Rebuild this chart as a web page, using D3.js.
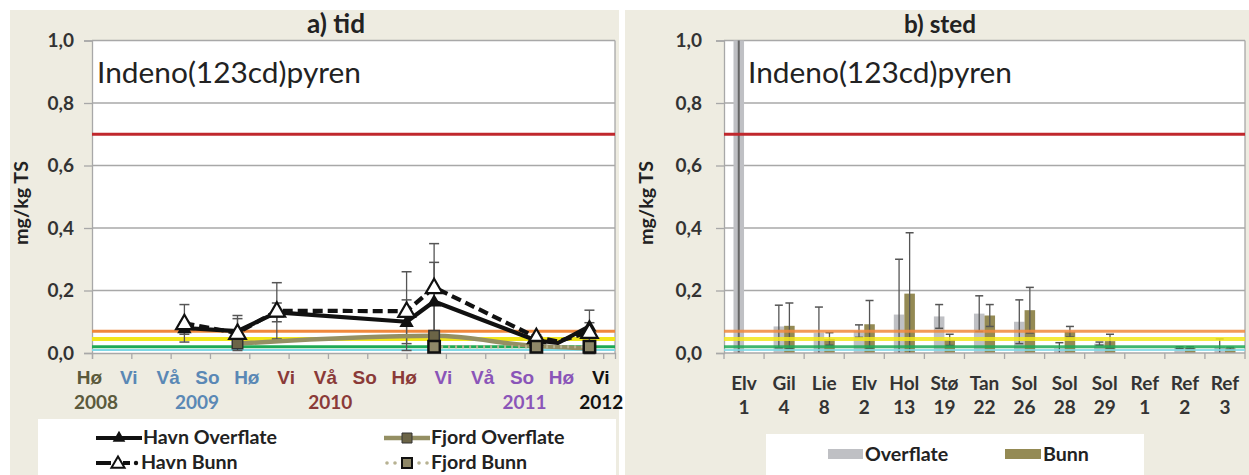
<!DOCTYPE html>
<html><head><meta charset="utf-8">
<script src="https://cdn.jsdelivr.net/npm/d3@7/dist/d3.min.js"></script>
<style>
body{margin:0;background:#fff;}
svg{display:block;font-family:Lato,"Open Sans",sans-serif;}
</style></head>
<body><svg id="c" width="1249" height="475"></svg>
<script>
// ---------------- DATA ----------------
const yTicks = [0, 0.2, 0.4, 0.6, 0.8, 1.0];
const thresholds = [0.7, 0.07, 0.045, 0.02, 0.01];

// a) tid  (x = season index, 0 = Hø 2008)
const seasonLabels = ["Hø","Vi","Vå","So","Hø","Vi","Vå","So","Hø","Vi","Vå","So","Hø","Vi"];
const seasonYearGroup = [0,1,1,1,1,2,2,2,2,3,3,3,3,4];
const yearLabels = ["2008","2009","2010","2011","2012"];
const yearLabelPos = [0.1, 2.67, 6.06, 11.0, 12.95];
const timeX = [2.35, 3.7, 4.7, 8.0, 8.7, 11.3, 11.85, 12.65];
const havnOverflate = [0.08, 0.07, 0.13, 0.10, 0.165, 0.04, 0.032, 0.085];
const havnOverflateErr = [0.02, 0.04, 0.03, 0.07, 0.125, 0.01, null, 0.052];
const havnBunn = [0.095, 0.064, 0.135, 0.134, 0.21, 0.05, 0.037, 0.067];
const havnBunnErr = [0.06, 0.056, 0.09, 0.126, 0.14, 0.008, null, 0.03];
const fjordOverflateX = [3.7, 8.7, 11.3, 12.65];
const fjordOverflate = [0.03, 0.055, 0.022, 0.015];
const fjordBunnX = [8.7, 11.3, 12.65];
const fjordBunn = [0.02, 0.02, 0.02];

// b) sted
const sites = ["Elv 1","Gil 4","Lie 8","Elv 2","Hol 13","Stø 19","Tan 22","Sol 26","Sol 28","Sol 29","Ref 1","Ref 2","Ref 3"];
const overflate    = [1.5, 0.085, 0.065, 0.07, 0.123, 0.117, 0.126, 0.10, 0.015, 0.03, null, 0.017, 0.02];
const overflateErr = [null, 0.068, 0.082, 0.02, 0.177, 0.038, 0.057, 0.07, 0.018, 0.005, null, 0.003, 0.025];
const bunn         = [null, 0.087, 0.045, 0.092, 0.19, 0.042, 0.12, 0.137, 0.068, 0.038, null, 0.017, 0.015];
const bunnErr      = [null, 0.073, 0.02, 0.076, 0.195, 0.018, 0.035, 0.073, 0.017, 0.022, null, 0.003, 0.003];

// ---------------- STYLE ----------------
const thresholdColors = ["#c0282d", "#f0883c", "#f2e61a", "#1faa55", "#7fd8e6"];
const thresholdWidths = [3, 3, 4, 3, 2];
const yearColors = ["#5b5a3c", "#5a88b5", "#8a3a38", "#8a55b8", "#111"];
const panelBg = "#eeece1";
const gridCol = "#a8a8a8";
const labCol = "#333";
const fjOvCol = "#948f63";

const svg = d3.select("#c");
svg.append("rect").attr("width",1249).attr("height",475).attr("fill","#fff");

function fit(sel, w){
  const n = sel.node(); const fs = parseFloat(sel.attr("font-size"));
  const l = n.getComputedTextLength(); sel.attr("font-size", fs*w/l);
  return sel;
}

function yAxisPanel(g, y, x0, x1, labelEnd, titleX){
  g.selectAll(".grid").data(yTicks.filter(d=>d>0)).join("line")
    .attr("x1",x0).attr("x2",x1).attr("y1",d=>y(d)).attr("y2",d=>y(d))
    .attr("stroke",gridCol).attr("stroke-width",1.3);
  const ax = g.append("g").attr("transform",`translate(${x0},0)`)
    .call(d3.axisLeft(y).tickValues(yTicks).tickFormat(d=>d.toFixed(1).replace(".",","))
      .tickSize(8).tickPadding(x0-8-labelEnd));
  ax.select(".domain").attr("stroke",gridCol).attr("stroke-width",1.3);
  ax.selectAll(".tick line").attr("stroke",gridCol).attr("stroke-width",1.3);
  ax.selectAll("text").attr("font-size",19).attr("font-weight","bold").attr("fill",labCol)
    .attr("font-family","Lato");
  const t = g.append("text").attr("transform",`translate(${titleX},203) rotate(-90)`)
    .attr("text-anchor","middle").attr("font-size",20).attr("font-weight","bold").attr("fill","#222")
    .text("mg/kg TS");
  fit(t, 84);
}

// ================= PANEL A =================
const gA = svg.append("g");
gA.append("rect").attr("x",10).attr("y",10).attr("width",609).attr("height",465).attr("fill",panelBg);
const yA = d3.scaleLinear().domain([0,1]).range([353,40.5]);
const xA = d3.scaleLinear().domain([0,13.3]).range([92,615]);
gA.append("rect").attr("x",92).attr("y",40.5).attr("width",523).attr("height",312.5).attr("fill","#fff");
yAxisPanel(gA, yA, 92, 615, 74, 28);
gA.append("line").attr("x1",615).attr("x2",615).attr("y1",40.5).attr("y2",353).attr("stroke",gridCol).attr("stroke-width",1.3);
fit(gA.append("text").attr("x",336).attr("y",33).attr("text-anchor","middle").attr("font-size",22)
  .attr("font-weight","bold").attr("fill","#222").text("a) tid"), 58);
fit(gA.append("text").attr("x",97).attr("y",83).attr("font-size",24).attr("fill","#222").text("Indeno(123cd)pyren"), 264);

gA.selectAll(".thr").data(thresholds).join("line")
  .attr("x1",92).attr("x2",615).attr("y1",d=>yA(d)).attr("y2",d=>yA(d))
  .attr("stroke",(d,i)=>thresholdColors[i]).attr("stroke-width",(d,i)=>thresholdWidths[i]);

const axA = gA.append("g").attr("transform","translate(0,353)")
  .call(d3.axisBottom(xA).tickValues(d3.range(seasonLabels.length)).tickFormat(i=>seasonLabels[i])
    .tickSize(6).tickPadding(12));
axA.select(".domain").attr("stroke",gridCol).attr("stroke-width",1.3);
axA.selectAll(".tick line").attr("stroke",gridCol).attr("stroke-width",1.3);
axA.selectAll("text").attr("font-size",19).attr("font-weight","bold")
  .attr("fill",(d,i)=>yearColors[seasonYearGroup[i]]).attr("dx",-3);
gA.selectAll(".yr").data(yearLabels).join("text")
  .attr("x",(d,i)=>xA(yearLabelPos[i])).attr("y",409).attr("text-anchor","middle")
  .attr("font-size",19).attr("font-weight","bold").attr("fill",(d,i)=>yearColors[i]).text(d=>d);

const clipA = gA.append("g");
function errBars(g, xs, vals, errs, xf, yf, cap){
  xs.forEach((xv,i)=>{
    if(errs[i]==null || vals[i]==null) return;
    const v=vals[i], e=errs[i], cx=xf(xv,i);
    const lo=Math.max(0,v-e), hi=v+e;
    g.append("line").attr("x1",cx).attr("x2",cx).attr("y1",yf(lo)).attr("y2",yf(hi)).attr("stroke","#555").attr("stroke-width",1.3);
    g.append("line").attr("x1",cx-cap).attr("x2",cx+cap).attr("y1",yf(hi)).attr("y2",yf(hi)).attr("stroke","#555").attr("stroke-width",1.5);
    if(v-e>0) g.append("line").attr("x1",cx-cap).attr("x2",cx+cap).attr("y1",yf(lo)).attr("y2",yf(lo)).attr("stroke","#555").attr("stroke-width",1.5);
  });
}
errBars(clipA, timeX, havnBunn, havnBunnErr, x=>xA(x), yA, 5);
errBars(clipA, timeX, havnOverflate, havnOverflateErr, x=>xA(x), yA, 5);

const lineGen = d3.line().x(d=>xA(d[0])).y(d=>yA(d[1]));
const smooth = d3.line().x(d=>xA(d[0])).y(d=>yA(d[1])).curve(d3.curveMonotoneX);
const fjOv = fjordOverflateX.map((x,i)=>[x,fjordOverflate[i]]);
const fjBu = fjordBunnX.map((x,i)=>[x,fjordBunn[i]]);
const hvOv = timeX.map((x,i)=>[x,havnOverflate[i]]);
const hvBu = timeX.map((x,i)=>[x,havnBunn[i]]);

clipA.append("path").attr("d",smooth(fjOv)).attr("fill","none").attr("stroke",fjOvCol).attr("stroke-width",4.5);
clipA.append("path").attr("d",lineGen(fjBu)).attr("fill","none").attr("stroke","#b7b292").attr("stroke-width",3).attr("stroke-dasharray","2,5");
clipA.append("path").attr("d",lineGen(hvOv)).attr("fill","none").attr("stroke","#111").attr("stroke-width",4.2).attr("stroke-linejoin","round");
clipA.append("path").attr("d",lineGen(hvBu)).attr("fill","none").attr("stroke","#111").attr("stroke-width",4.2).attr("stroke-dasharray","10,5");

const tri = d3.symbol().type(d3.symbolTriangle);
const sq = d3.symbol().type(d3.symbolSquare);
clipA.selectAll(".fos").data(fjOv).join("path")
  .attr("transform",d=>`translate(${xA(d[0])},${yA(d[1])})`).attr("d",sq.size(110)())
  .attr("fill","#6b6446").attr("stroke","#333").attr("stroke-width",1.5);
clipA.selectAll(".hot").data(hvOv.filter((d,i)=>havnOverflateErr[i]!=null)).join("path")
  .attr("transform",d=>`translate(${xA(d[0])},${yA(d[1])+1})`).attr("d",tri.size(90)())
  .attr("fill","#111");
clipA.selectAll(".hbt").data(hvBu.filter((d,i)=>havnBunnErr[i]!=null)).join("path")
  .attr("transform",d=>`translate(${xA(d[0])},${yA(d[1])+1})`).attr("d",tri.size(120)())
  .attr("fill","#fff").attr("stroke","#111").attr("stroke-width",2.2);
clipA.selectAll(".fbs").data(fjBu).join("path")
  .attr("transform",d=>`translate(${xA(d[0])},${yA(d[1])})`).attr("d",sq.size(130)())
  .attr("fill","#8f8868").attr("stroke","#111").attr("stroke-width",2.5);

// legend A
const lgA = gA.append("g");
lgA.append("rect").attr("x",38).attr("y",419).attr("width",578).attr("height",56).attr("fill","#fff");
let legSize = 18;
function legText(g,x,y,t){ return g.append("text").attr("x",x).attr("y",y).attr("font-size",legSize)
  .attr("font-weight","bold").attr("fill","#222").text(t); }
lgA.append("line").attr("x1",96).attr("x2",142).attr("y1",438).attr("y2",438).attr("stroke","#111").attr("stroke-width",4);
lgA.append("path").attr("transform","translate(119,438)").attr("d",tri.size(70)()).attr("fill","#111");
const first = fit(legText(lgA,143,444,"Havn Overflate"),134);
legSize = parseFloat(first.attr("font-size"));
lgA.append("line").attr("x1",96).attr("x2",111).attr("y1",463).attr("y2",463).attr("stroke","#111").attr("stroke-width",4);
lgA.append("line").attr("x1",123).attr("x2",130).attr("y1",463).attr("y2",463).attr("stroke","#111").attr("stroke-width",4);
lgA.append("circle").attr("cx",136).attr("cy",463).attr("r",2.2).attr("fill","#111");
lgA.append("path").attr("transform","translate(118,464)").attr("d",tri.size(75)()).attr("fill","#fff").attr("stroke","#111").attr("stroke-width",2);
legText(lgA,141,469,"Havn Bunn");
lgA.append("line").attr("x1",384).attr("x2",430).attr("y1",438).attr("y2",438).attr("stroke",fjOvCol).attr("stroke-width",4.5);
lgA.append("path").attr("transform","translate(407,438)").attr("d",sq.size(100)()).attr("fill","#6b6446").attr("stroke","#333");
legText(lgA,431,444,"Fjord Overflate");
lgA.selectAll(".fbd").data([387,395,419,427]).join("circle").attr("cx",d=>d).attr("cy",463).attr("r",1.8).attr("fill","#b7b292");
lgA.append("path").attr("transform","translate(407,463)").attr("d",sq.size(100)()).attr("fill","#8f8868").attr("stroke","#111").attr("stroke-width",2);
legText(lgA,431,469,"Fjord Bunn");

// ================= PANEL B =================
const gB = svg.append("g");
gB.append("rect").attr("x",625).attr("y",10).attr("width",624).attr("height",465).attr("fill",panelBg);
const yB = d3.scaleLinear().domain([0,1]).range([353,40.5]);
const xB = d3.scaleBand().domain(sites).range([724,1245]);
const xSub = d3.scaleBand().domain(["Overflate","Bunn"]).range([0,xB.bandwidth()]).paddingOuter(0.9);
gB.append("rect").attr("x",724).attr("y",40.5).attr("width",521).attr("height",312.5).attr("fill","#fff");
yAxisPanel(gB, yB, 724, 1245, 702, 653);
gB.append("line").attr("x1",1245).attr("x2",1245).attr("y1",40.5).attr("y2",353).attr("stroke",gridCol).attr("stroke-width",1.3);
fit(gB.append("text").attr("x",940).attr("y",33).attr("text-anchor","middle").attr("font-size",22)
  .attr("font-weight","bold").attr("fill","#222").text("b) sted"), 72);

const defs = svg.append("defs");
defs.append("clipPath").attr("id","clipB").append("rect").attr("x",724).attr("y",40.5).attr("width",521).attr("height",312.5);
const barsB = gB.append("g").attr("clip-path","url(#clipB)");
const ovData = sites.map((s,i)=>({s,v:overflate[i],e:overflateErr[i]})).filter(d=>d.v!=null);
const buData = sites.map((s,i)=>({s,v:bunn[i],e:bunnErr[i]})).filter(d=>d.v!=null);
barsB.selectAll(".ov").data(ovData).join("rect")
  .attr("x",d=>xB(d.s)+xSub("Overflate")).attr("width",xSub.bandwidth())
  .attr("y",d=>yB(d.v)).attr("height",d=>yB(0)-yB(d.v)).attr("fill","#bfc0c4");
barsB.selectAll(".bu").data(buData).join("rect")
  .attr("x",d=>xB(d.s)+xSub("Bunn")).attr("width",xSub.bandwidth())
  .attr("y",d=>yB(d.v)).attr("height",d=>yB(0)-yB(d.v)).attr("fill","#948a54");
barsB.append("line").attr("x1",xB(sites[0])+xSub("Overflate")+xSub.bandwidth()/2)
  .attr("x2",xB(sites[0])+xSub("Overflate")+xSub.bandwidth()/2).attr("y1",yB(0)).attr("y2",40)
  .attr("stroke","#666").attr("stroke-width",2);
errBars(barsB, sites, overflate, overflateErr, (s,i)=>xB(s)+xSub("Overflate")+xSub.bandwidth()/2, yB, 4);
errBars(barsB, sites, bunn, bunnErr, (s,i)=>xB(s)+xSub("Bunn")+xSub.bandwidth()/2, yB, 4);

gB.selectAll(".thr").data(thresholds).join("line")
  .attr("x1",724).attr("x2",1245).attr("y1",d=>yB(d)).attr("y2",d=>yB(d))
  .attr("stroke",(d,i)=>thresholdColors[i]).attr("stroke-width",(d,i)=>thresholdWidths[i])
  .attr("stroke-opacity",(d,i)=>i===0?1:0.85);

fit(gB.append("text").attr("x",748).attr("y",83).attr("font-size",24).attr("fill","#222").text("Indeno(123cd)pyren"), 264);

gB.append("line").attr("x1",724).attr("x2",1245).attr("y1",353).attr("y2",353).attr("stroke",gridCol).attr("stroke-width",1.3);
gB.selectAll(".tk").data(sites.map(s=>xB(s)).concat([1245])).join("line")
  .attr("x1",d=>d).attr("x2",d=>d).attr("y1",353).attr("y2",359).attr("stroke",gridCol).attr("stroke-width",1.3);
const lab = gB.selectAll(".lab").data(sites).join("text")
  .attr("x",d=>xB(d)+xB.bandwidth()/2).attr("y",390).attr("text-anchor","middle")
  .attr("font-size",19).attr("font-weight","bold").attr("fill",labCol);
lab.append("tspan").attr("x",d=>xB(d)+xB.bandwidth()/2).text(d=>d.split(" ")[0]);
lab.append("tspan").attr("x",d=>xB(d)+xB.bandwidth()/2).attr("dy",24).text(d=>d.split(" ")[1]);

const lgB = gB.append("g");
lgB.append("rect").attr("x",766).attr("y",434).attr("width",378).attr("height",41).attr("fill","#fff");
lgB.append("rect").attr("x",828).attr("y",449).attr("width",35).attr("height",10).attr("fill","#bfc0c4");
legText(lgB,865,461,"Overflate");
lgB.append("rect").attr("x",1005).attr("y",449).attr("width",36).attr("height",10).attr("fill","#948a54");
legText(lgB,1043,461,"Bunn");
</script>
</body></html>
